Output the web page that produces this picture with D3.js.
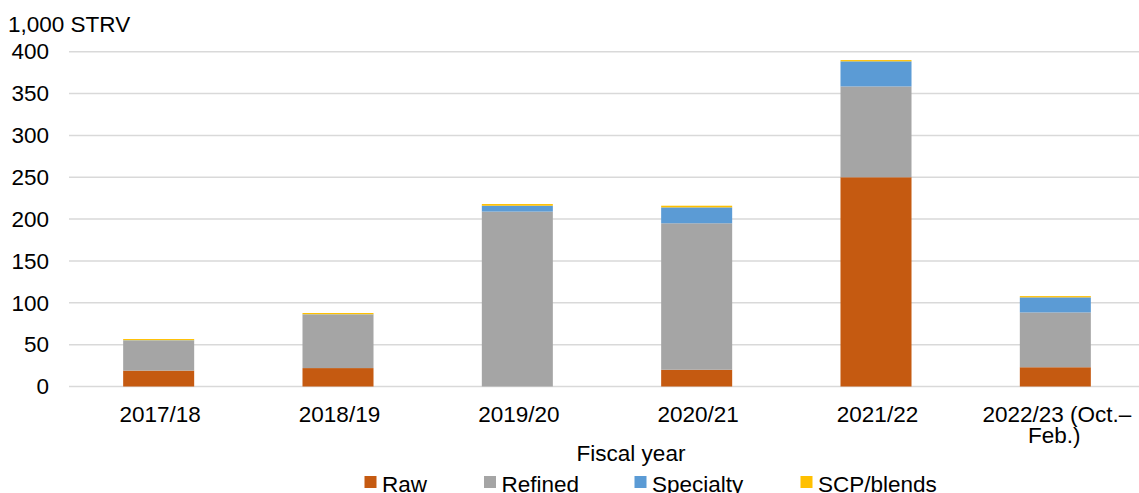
<!DOCTYPE html>
<html>
<head>
<meta charset="utf-8">
<script src="https://cdn.jsdelivr.net/npm/d3@7"></script>
<style>
  body { margin: 0; background: #fff; }
  text { font-family: "Liberation Sans", Arial, sans-serif; fill: #000; }
</style>
</head>
<body>
<svg id="chart"></svg>
<script>
const years = ["2017/18", "2018/19", "2019/20", "2020/21", "2021/22", "2022/23 (Oct.–|Feb.)"];
const seriesNames = ["Raw", "Refined", "Specialty", "SCP/blends"];
const raw = [19, 22, 0, 20, 250, 23];
const refined = [36, 64, 209, 175, 108.5, 65.5];
const specialty = [0.3, 0.3, 7, 19, 30, 18];
const scpBlends = [1.4, 1.5, 2, 2, 1.5, 1.5];
const yTicks = [0, 50, 100, 150, 200, 250, 300, 350, 400];

const colorArray = ["#C55A11", "#A5A5A5", "#5B9BD5", "#FFC000"];

var svgWidth = 1139, svgHeight = 493;
var fontSize = 22.5;

var svg = d3.select("#chart")
  .attr("width", svgWidth)
  .attr("height", svgHeight);

// table for the stack layout
var table = years.map(function (y, i) {
  return { year: y, Raw: raw[i], Refined: refined[i], Specialty: specialty[i], "SCP/blends": scpBlends[i] };
});

var x = d3.scaleBand().domain(years).range([69, 1145]).paddingInner(0.604).paddingOuter(0.302);
var y = d3.scaleLinear().domain([0, 400]).range([386.5, 51.7]);

// gridlines
svg.append("g")
  .selectAll("line")
  .data(yTicks)
  .enter()
  .append("line")
  .attr("x1", 69)
  .attr("x2", svgWidth)
  .attr("y1", function (d) { return y(d); })
  .attr("y2", function (d) { return y(d); })
  .attr("stroke", "#D9D9D9")
  .attr("stroke-width", 1.5);

// y axis labels
var yAxis = svg.append("g")
  .attr("transform", "translate(53,0)")
  .call(d3.axisLeft(y).tickValues(yTicks).tickSize(0).tickPadding(4));
yAxis.select(".domain").remove();
yAxis.selectAll("text")
  .attr("font-size", fontSize)
  .attr("font-family", "Liberation Sans, Arial, sans-serif")
  .attr("fill", "#000");

svg.append("text")
  .attr("x", 8)
  .attr("y", 32)
  .attr("font-size", fontSize)
  .text("1,000 STRV");

// stacked bars
var stack = d3.stack().keys(seriesNames);
var layers = stack(table);

svg.append("g")
  .selectAll("g")
  .data(layers)
  .enter()
  .append("g")
  .attr("fill", function (d, i) { return colorArray[i]; })
  .selectAll("rect")
  .data(function (d) { return d; })
  .enter()
  .append("rect")
  .attr("x", function (d) { return x(d.data.year); })
  .attr("width", x.bandwidth())
  .attr("y", function (d) { return y(d[1]); })
  .attr("height", function (d) { return y(d[0]) - y(d[1]); });

// x axis labels, split on "|"
var xAxis = svg.append("g");
xAxis.selectAll("text")
  .data(years)
  .enter()
  .append("text")
  .attr("text-anchor", "middle")
  .attr("font-size", fontSize)
  .attr("transform", function (d) { return "translate(" + (x(d) + x.bandwidth() / 2) + ",421.5)"; })
  .each(function (d) {
    var lines = d.split("|");
    var t = d3.select(this);
    lines.forEach(function (l, i) {
      t.append("tspan").attr("x", i == 0 ? 1.5 : -1).attr("dy", i == 0 ? 0 : 21.5).text(l);
    });
  });

svg.append("text")
  .attr("x", 631)
  .attr("y", 461)
  .attr("text-anchor", "middle")
  .attr("font-size", fontSize)
  .text("Fiscal year");

// legend
var legendX = [364.5, 484, 634.5, 800.5];
var legend = svg.append("g")
  .selectAll("g")
  .data(seriesNames)
  .enter()
  .append("g")
  .attr("transform", function (d, i) { return "translate(" + legendX[i] + ",476)"; });

legend.append("rect")
  .attr("width", 12)
  .attr("height", 12)
  .attr("fill", function (d, i) { return colorArray[i]; });

legend.append("text")
  .attr("x", 17.5)
  .attr("y", 15.5)
  .attr("font-size", fontSize)
  .text(function (d) { return d; });
</script>
</body>
</html>
